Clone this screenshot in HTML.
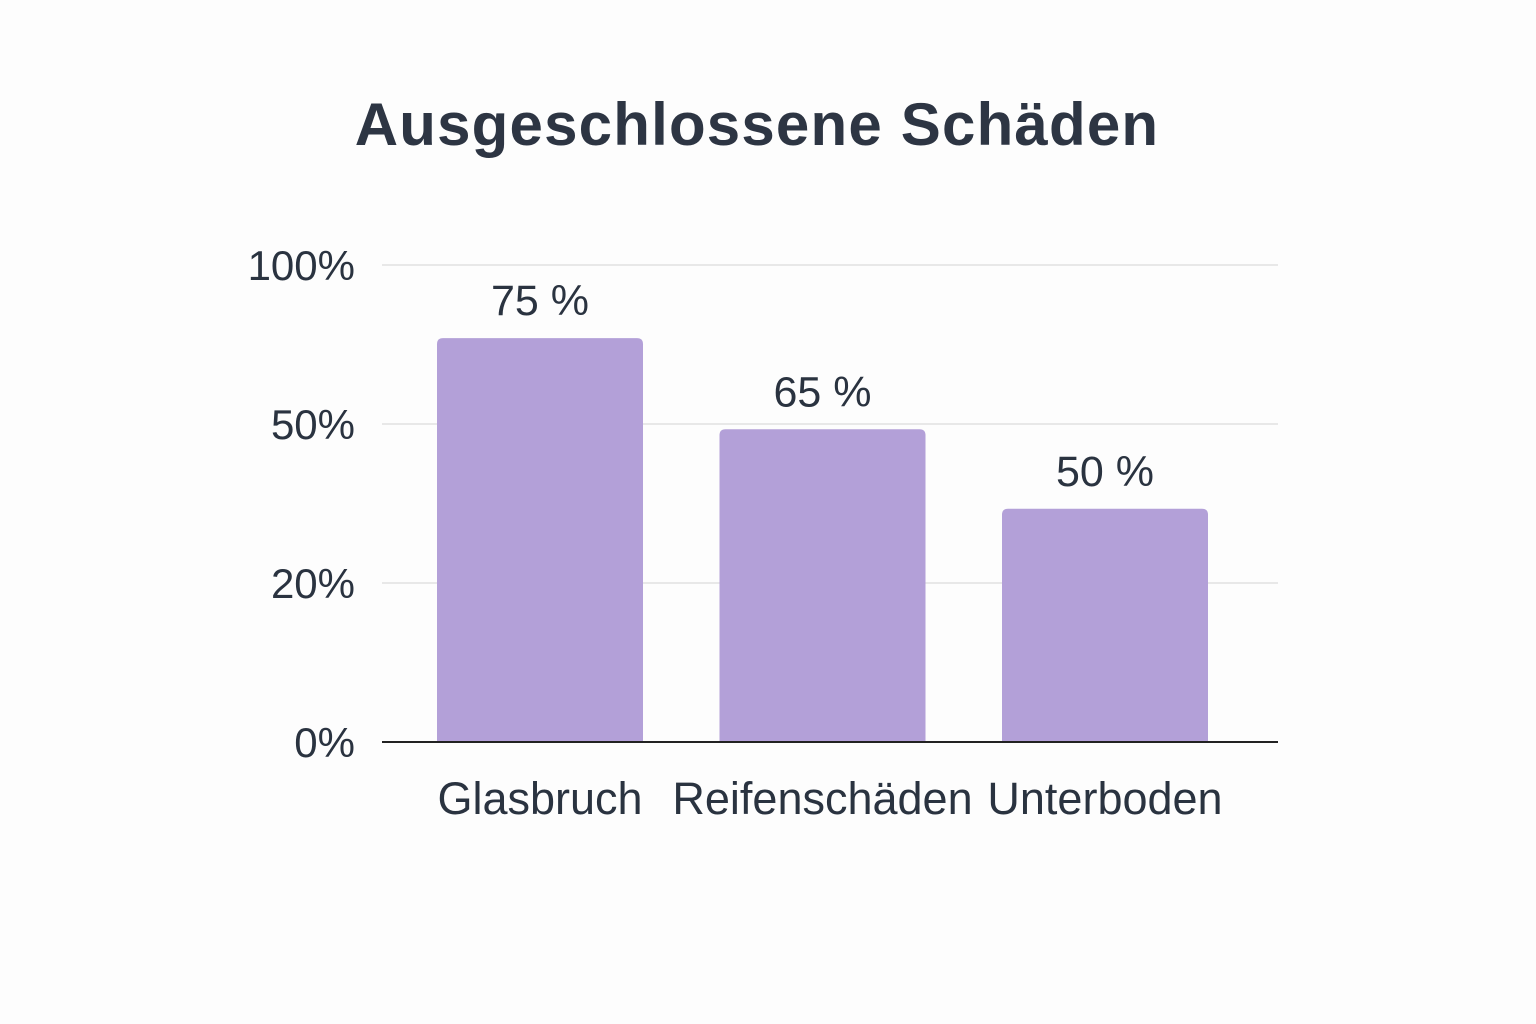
<!DOCTYPE html>
<html><head><meta charset="utf-8"><style>
html,body{margin:0;padding:0;background:#fdfdfd;}
svg{display:block;font-family:"Liberation Sans",sans-serif;}
</style></head><body>
<svg id="chart" width="1536" height="1024" viewBox="0 0 1536 1024" xmlns="http://www.w3.org/2000/svg">
<rect width="1536" height="1024" fill="#fdfdfd"/>
<text x="757" y="145" text-anchor="middle" font-size="60" font-weight="bold" letter-spacing="1.2" fill="#2d3543">Ausgeschlossene Schäden</text>
<g id="grid"></g><g id="bars"></g><g id="labels"></g>
</svg>
<script>
const categories = ["Glasbruch", "Reifenschäden", "Unterboden"];
const barValues = [77, 49, 34];
const valueLabels = ["75 %", "65 %", "50 %"];
const tickValues = [0, 20, 50, 100];
const tickLabels = ["0%", "20%", "50%", "100%"];

const NS = "http://www.w3.org/2000/svg";
const plotLeft = 382, plotRight = 1278, plotBottom = 742, tickStep = 159;
const tickY = tickValues.map((v, i) => plotBottom - i * tickStep);
function yScale(v) {
  for (let i = 0; i < tickValues.length - 1; i++) {
    if (v <= tickValues[i + 1] || i === tickValues.length - 2) {
      const t = (v - tickValues[i]) / (tickValues[i + 1] - tickValues[i]);
      return tickY[i] + t * (tickY[i + 1] - tickY[i]);
    }
  }
}
const band = 282.5;
const barW = 206;
function xCenter(i) { return 822.5 + band * (i - (categories.length - 1) / 2); }
function mk(tag, attrs, parent) {
  const el = document.createElementNS(NS, tag);
  for (const k in attrs) el.setAttribute(k, attrs[k]);
  parent.appendChild(el); return el;
}
const grid = document.getElementById("grid");
const bars = document.getElementById("bars");
const labels = document.getElementById("labels");
tickValues.forEach((v, i) => {
  const y = tickY[i];
  if (i > 0) {
    const gl = mk("line", {x1: plotLeft, x2: plotRight, y1: y, y2: y, stroke: "#dcdcdc", "stroke-width": 1.2}, grid);
    
    
  }
  const t = mk("text", {x: 355, y: y + 15, "text-anchor": "end", "font-size": 42, fill: "#2a3340"}, labels);
  t.textContent = tickLabels[i];
  
  
});
categories.forEach((c, i) => {
  const cx = xCenter(i), yTop = yScale(barValues[i]), r = 6;
  const x0 = cx - barW / 2, x1 = cx + barW / 2;
  const p = mk("path", {d: `M${x0},${plotBottom} V${yTop + r} Q${x0},${yTop} ${x0 + r},${yTop} H${x1 - r} Q${x1},${yTop} ${x1},${yTop + r} V${plotBottom} Z`, fill: "#b3a0d8"}, bars);
  
  
  const vl = mk("text", {x: cx, y: yTop - 23, "text-anchor": "middle", "font-size": 43, fill: "#2a3340"}, labels);
  vl.textContent = valueLabels[i];
  
  
  const cl = mk("text", {x: cx, y: 814, "text-anchor": "middle", "font-size": 45, fill: "#2a3340"}, labels);
  cl.textContent = c;
  
  
});
const ax = mk("line", {x1: plotLeft, x2: plotRight, y1: plotBottom, y2: plotBottom, stroke: "#222", "stroke-width": 2}, labels);


</script>
</body></html>
